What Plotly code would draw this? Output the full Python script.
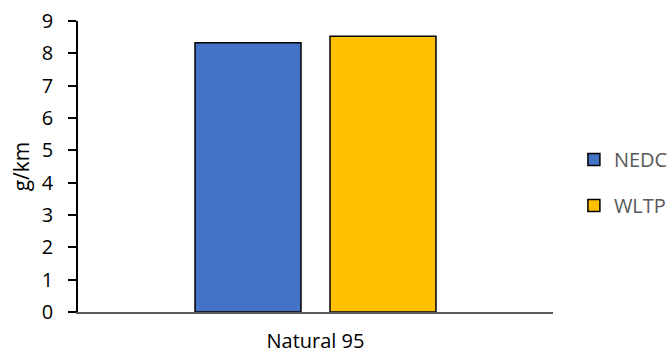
import plotly.graph_objects as go

categories = ["Natural 95"]
series_names = ["NEDC", "WLTP"]
nedc_values = [8.33]
wltp_values = [8.53]
y_ticks = list(range(0, 10))

colors = {"NEDC": "#4472C4", "WLTP": "#FFC000"}
values = {"NEDC": nedc_values, "WLTP": wltp_values}

fig = go.Figure()
for i, name in enumerate(series_names):
    fig.add_trace(go.Bar(
        x=categories, y=values[name], name=name,
        marker=dict(color=colors[name], line=dict(color="#000000", width=1.5)),
        legendgroup=name,
    ))

font_family = "Open Sans, Noto Sans, sans-serif"
fig.update_layout(
    width=670, height=354,
    margin=dict(l=78, r=117, t=21, b=42, autoexpand=False),
    paper_bgcolor="white", plot_bgcolor="white",
    barmode="group", bargap=0.4316, bargroupgap=0.215,
    font=dict(family=font_family, color="#000000"),
    showlegend=True,
    legend=dict(x=1.044, y=0.445, xanchor="left", yanchor="middle",
                font=dict(size=20, color="#595959"),
                tracegroupgap=17, bgcolor="rgba(0,0,0,0)"),
    xaxis=dict(showline=True, linecolor="#595959", linewidth=1.5,
               ticks="", showgrid=False, zeroline=False,
               tickfont=dict(size=20, color="#000000"),
               ticklabelstandoff=10, automargin=False),
    yaxis=dict(range=[0, 9], tickvals=y_ticks, showline=True,
               linecolor="#000000", linewidth=1.5,
               ticks="outside", ticklen=8, tickcolor="#000000", tickwidth=1.5,
               showgrid=False, zeroline=False,
               tickfont=dict(size=20, color="#000000"),
               ticklabelstandoff=11, automargin=False,
               title=dict(text="g/km", font=dict(size=21, color="#000000"), standoff=6)),
)

fig.write_html("out.html")
